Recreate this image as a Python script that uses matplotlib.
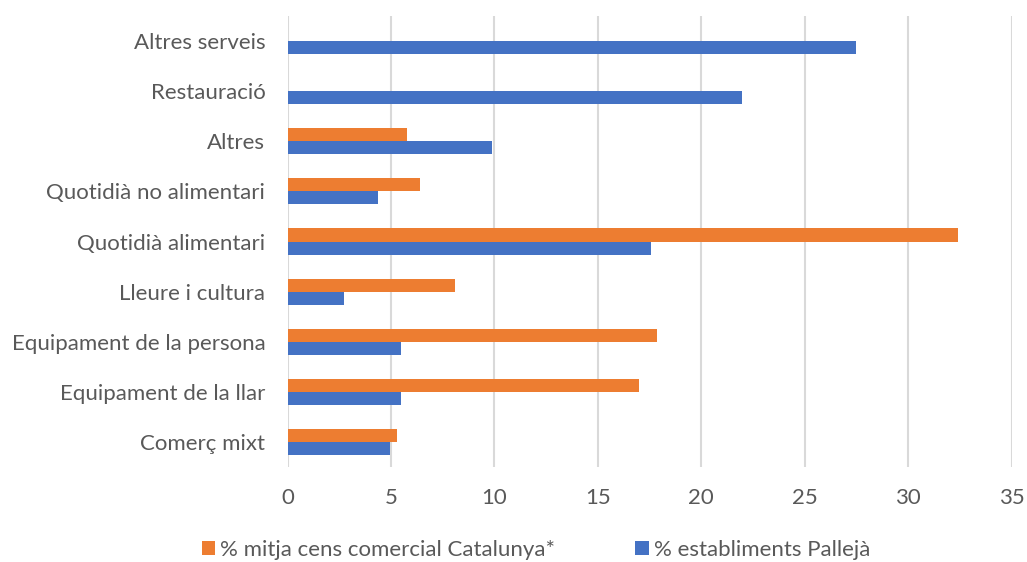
import numpy as np
import matplotlib.pyplot as plt

categories = ["Altres serveis", "Restauració", "Altres", "Quotidià no alimentari",
              "Quotidià alimentari", "Lleure i cultura", "Equipament de la persona",
              "Equipament de la llar", "Comerç mixt"]
catalunya = [np.nan, np.nan, 5.77, 6.38, 32.39, 8.07, 17.86, 17.0, 5.31]
palleja = [27.47, 21.99, 9.89, 4.39, 17.59, 2.75, 5.47, 5.47, 4.94]
xticks = [0, 5, 10, 15, 20, 25, 30, 35]

plt.rcParams['font.family'] = ['Lato', 'DejaVu Sans']

fig = plt.figure(figsize=(10.27, 5.62), dpi=100)
ax = fig.add_axes([0.28, 0.169, 0.705, 0.8025])

y = np.arange(len(categories))
h = 0.26
ax.barh(y - h / 2, catalunya, height=h, color='#ED7D31', label='% mitja cens comercial Catalunya*', zorder=3)
ax.barh(y + h / 2, palleja, height=h, color='#4472C4', label='% establiments Pallejà', zorder=3)

ax.set_ylim(len(categories) - 0.5, -0.5)
ax.set_xlim(0, 35)
ax.set_xticks(xticks)
ax.set_yticks(y)
ax.set_yticklabels(categories)
ax.tick_params(axis='both', length=0, labelsize=16, labelcolor='#595959')
ax.tick_params(axis='y', pad=16)
ax.tick_params(axis='x', pad=15)
ax.grid(axis='x', color='#d9d9d9', linewidth=1.5, zorder=0)
for s in ax.spines.values():
    s.set_visible(False)

fig.legend(loc='center', bbox_to_anchor=(0.522, 0.022), ncol=2,
           frameon=False, fontsize=16, labelcolor='#595959',
           handlelength=0.6, handleheight=0.6, handletextpad=0.25, columnspacing=3.6)

fig.savefig('out.png', dpi=100)
